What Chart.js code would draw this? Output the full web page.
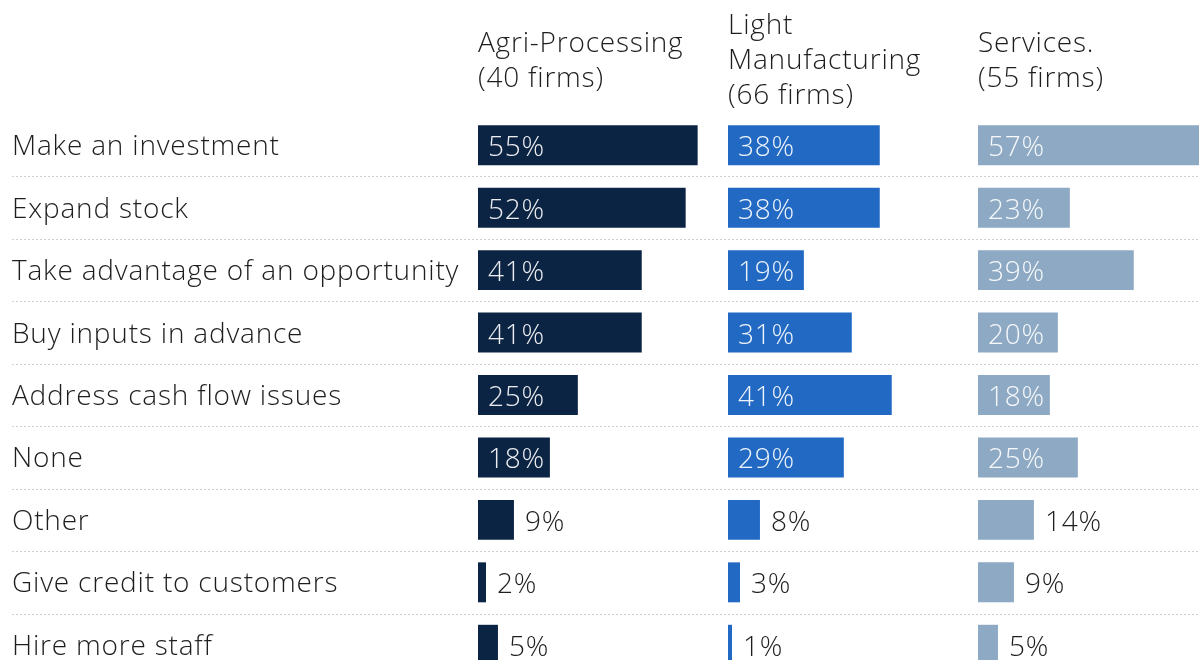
<!DOCTYPE html>
<html>
<head>
<meta charset="utf-8">
<script src="https://cdn.jsdelivr.net/npm/chart.js@4/dist/chart.umd.min.js"></script>
<style>
  html, body { margin: 0; padding: 0; background: #fff; }
  .wrap { width: 1199px; height: 660px; overflow: hidden; position: relative; }
  canvas { display: block; }
</style>
</head>
<body>
<div class="wrap">
  <canvas id="reasons" width="1228" height="676"></canvas>
</div>
<script>
  const categories = [
    'Make an investment',
    'Expand stock',
    'Take advantage of an opportunity',
    'Buy inputs in advance',
    'Address cash flow issues',
    'None',
    'Other',
    'Give credit to customers',
    'Hire more staff'
  ];
  const agriProcessing = [55, 52, 41, 41, 25, 18, 9, 2, 5];
  const lightManufacturing = [38, 38, 19, 31, 41, 29, 8, 3, 1];
  const services = [57, 23, 39, 20, 18, 25, 14, 9, 5];

  const headerAgri = ['Agri-Processing', '(40 firms)'];
  const headerLight = ['Light', 'Manufacturing', '(66 firms)'];
  const headerServices = ['Services.', '(55 firms)'];

  const colors = ['#0c2444', '#2169c3', '#8da9c4'];
  const textColor = '#1e1e1e';
  const fontFamily = '"Open Sans", sans-serif';
  const fontWeight = 300;
  const fontSize = 28;
  const lineHeight = 35;
  const headerHeight = 114;

  // a little tracking for every piece of text on the canvas
  const letterSpacing = {
    id: 'letterSpacing',
    beforeDraw(chart) {
      chart.ctx.letterSpacing = '0.8px';
    }
  };

  // dotted separators between the rows, across the whole width
  const rowSeparators = {
    id: 'rowSeparators',
    beforeDatasetsDraw(chart) {
      const { ctx } = chart;
      const yScale = chart.scales.y;
      ctx.save();
      ctx.strokeStyle = '#cfcfcf';
      ctx.lineWidth = 1;
      ctx.setLineDash([2, 2]);
      for (let i = 0; i < categories.length - 1; i++) {
        const y = Math.round((yScale.getPixelForValue(i) + yScale.getPixelForValue(i + 1)) / 2) + 0.5;
        ctx.beginPath();
        ctx.moveTo(12, y);
        ctx.lineTo(chart.width, y);
        ctx.stroke();
      }
      ctx.restore();
    }
  };

  // percentage text, inside wide bars and after short ones
  const valueLabels = {
    id: 'valueLabels',
    afterDatasetsDraw(chart) {
      const { ctx } = chart;
      ctx.save();
      ctx.font = `${fontWeight} ${fontSize}px ${fontFamily}`;
      ctx.textBaseline = 'middle';
      ctx.textAlign = 'left';
      chart.data.datasets.forEach((dataset, di) => {
        chart.getDatasetMeta(di).data.forEach((bar, i) => {
          const text = `${dataset.data[i]}%`;
          const width = bar.x - bar.base;
          if (width > 65) {
            ctx.fillStyle = 'rgba(255, 255, 255, 0.92)';
            ctx.fillText(text, bar.base + 10, bar.y + 3);
          } else {
            ctx.fillStyle = textColor;
            ctx.fillText(text, bar.x + 11, bar.y + 3);
          }
        });
      });
      ctx.restore();
    }
  };

  // one top axis per sector; shorter headers are centred in the header band
  const panelAxis = (title) => {
    const textHeight = title.length * lineHeight;
    const rest = headerHeight - 9 - textHeight;
    return {
      type: 'linear',
      position: 'top',
      stack: 'panels',
      stackWeight: 1,
      min: 0,
      max: 62.6,
      grid: { display: false, drawTicks: false },
      border: { display: false },
      ticks: { display: false },
      title: {
        display: true,
        text: title,
        align: 'start',
        color: textColor,
        font: { family: fontFamily, size: fontSize, weight: fontWeight, lineHeight: `${lineHeight}px` },
        padding: { top: 9 + rest / 2, bottom: rest / 2 }
      }
    };
  };

  const barSet = (data, axis, color) => ({
    data,
    xAxisID: axis,
    backgroundColor: color,
    borderWidth: 0,
    grouped: false,
    barPercentage: 0.8,
    categoryPercentage: 0.8
  });

  // eslint-disable-next-line no-new
  new Chart(document.getElementById('reasons'), {
    type: 'bar',
    data: {
      labels: categories,
      datasets: [
        barSet(agriProcessing, 'x1', colors[0]),
        barSet(lightManufacturing, 'x2', colors[1]),
        barSet(services, 'x3', colors[2])
      ]
    },
    options: {
      indexAxis: 'y',
      responsive: false,
      animation: false,
      layout: { padding: { left: 12, top: 0, right: 0, bottom: 0 } },
      plugins: {
        legend: { display: false },
        tooltip: { enabled: false }
      },
      scales: {
        // top boxes are laid out last-declared first
        x3: panelAxis(headerServices),
        x2: panelAxis(headerLight),
        x1: panelAxis(headerAgri),
        y: {
          type: 'category',
          position: 'left',
          grid: { display: false, drawTicks: false },
          border: { display: false },
          ticks: {
            crossAlign: 'far',
            color: textColor,
            padding: 0,
            labelOffset: 2,
            font: { family: fontFamily, size: fontSize, weight: fontWeight }
          },
          afterFit(axis) {
            // fixed label column, and no extra room reserved above/below the rows
            axis.width = 466;
            axis.paddingTop = 0;
            axis.paddingBottom = 0;
          }
        }
      }
    },
    plugins: [letterSpacing, rowSeparators, valueLabels]
  });
</script>
</body>
</html>
